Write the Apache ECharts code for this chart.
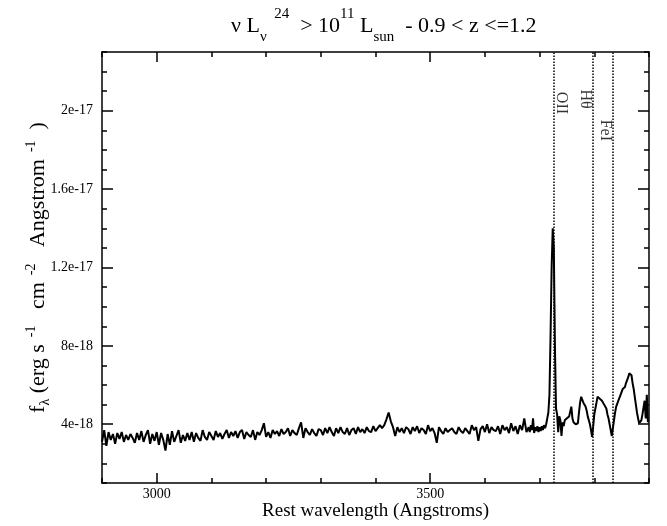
<!DOCTYPE html>
<html>
<head>
<meta charset="utf-8">
<script src="https://cdn.jsdelivr.net/npm/echarts@6/dist/echarts.min.js"></script>
<style>html,body{margin:0;padding:0;background:#fff}#c{width:667px;height:526px}</style>
</head>
<body>
<div id="c"></div>
<script>
// ---- data (flux in units of 1e-18 erg s^-1 cm^-2 A^-1) ----
var waveBlue = [
2900,2904,2908,2912,2916,2920,2924,2928,2932,2936,2940,2944,2948,2952,2956,2960,2964,2968,2972,2976,
2980,2984,2988,2992,2996,3000,3004,3008,3012,3016,3020,3024,3028,3032,3036,3040,3044,3048,3052,3056,
3060,3064,3068,3072,3076,3080,3084,3088,3092,3096,3100,3104,3108,3112,3116,3120,3124,3128,3132,3136,
3140,3144,3148,3152,3156,3160,3164,3168,3172,3176,3180,3184,3188,3192,3196,3200,3204,3208,3212,3216,
3220,3224,3228,3232,3236,3240,3244,3248,3252,3256,3260,3264,3268,3272,3276,3280,3284,3288,3292,3296,
3300,3304,3308,3312,3316,3320,3324,3328,3332,3336,3340,3344,3348,3352,3356,3360,3364,3368,3372,3376,
3380,3384,3388,3392,3396,3400,3404,3408,3412,3416,3420,3424,3428,3432,3436,3440,3444,3448,3452,3456,
3460,3464,3468,3472,3476,3480,3484,3488,3492,3496,3500,3504,3508,3512,3516,3520,3524,3528,3532,3536,
3540,3544,3548,3552,3556,3560,3564,3568,3572,3576,3580,3584,3588,3592,3596,3600,3604,3608,3612,3616,
3620,3624,3628,3632,3636,3640,3644,3648,3652,3656,3660,3664,3668,3672,3676
];
var fluxBlue = [
3.1,3.7,2.9,3.6,3.2,3.5,3.0,3.55,3.25,3.6,3.1,3.45,3.2,3.5,3.3,3.05,3.55,3.2,3.65,3.1,
3.45,3.7,3.0,3.5,3.15,3.6,2.95,3.55,3.2,2.65,3.5,2.95,3.65,3.1,3.4,3.7,3.05,3.45,3.15,3.55,
3.2,3.6,3.1,3.55,3.3,3.15,3.7,3.35,3.2,3.6,3.4,3.2,3.65,3.35,3.55,3.25,3.5,3.7,3.3,3.6,
3.4,3.65,3.3,3.6,3.7,3.25,3.6,3.45,3.35,3.7,3.2,3.6,3.45,3.7,4.05,3.35,3.6,3.3,3.7,3.5,
3.65,3.4,3.75,3.5,3.6,3.8,3.4,3.7,3.55,3.45,3.8,4.1,3.3,3.8,3.6,3.45,3.75,3.55,3.4,3.75,
3.7,3.45,3.8,3.55,3.85,3.6,3.4,3.8,3.55,3.85,3.6,3.5,3.8,3.45,3.7,3.8,3.5,3.85,3.6,3.75,
3.55,3.85,3.65,3.6,3.9,3.65,3.8,3.95,3.8,3.95,4.25,4.6,4.15,3.85,3.4,3.85,3.6,3.8,3.55,3.85,
3.75,3.5,3.85,3.65,3.9,3.55,3.8,3.7,3.5,3.95,3.65,3.8,3.55,3.05,3.85,3.65,3.5,3.8,3.6,3.7,
3.8,3.6,3.5,3.85,3.65,3.55,3.8,3.65,3.5,3.95,3.7,3.85,3.15,3.75,3.9,3.6,4.0,3.55,3.85,3.7,
3.65,3.9,3.5,3.95,3.7,3.85,3.55,4.05,3.65,3.9,3.5,3.95,3.7,4.3,3.6
];
var waveRed = [
3680,3682,3684,3686,3688,3690,3692,3694,3696,3698,
3700,3702,3704,3706,3708,3710,3712,3714,3716,3718,
3720,3722,3724,3726,3728,3730,3732,3734,3736,3738,
3740,3742,3744,3746,3748,3750,3752,3754,3756,3758,
3760,3762,3764,3766,3768,3770,3772,3774,3776,3778,
3780,3782,3784,3786,3788,3790,3792,3794,3796,3798,
3800,3802,3804,3806,3808,3810,3812,3814,3816,3818,
3820,3822,3824,3826,3828,3830,3832,3834,3836,3838,
3840,3842,3844,3846,3848,3850,3852,3854,3856,3858,
3860,3862,3864,3866,3868,3870,3872,3874,3876,3878,
3880,3882,3884,3886,3888,3890,3892,3894,3896,3898
];
var fluxRed = [
3.85,3.6,3.95,3.7,4.3,3.55,3.85,3.65,3.9,3.6,
3.85,3.65,3.9,3.7,3.95,3.8,4.0,4.3,4.6,5.5,
8.5,12.0,14.0,13.0,8.0,4.8,4.5,3.6,4.4,4.2,
3.4,4.1,3.9,4.2,4.1,4.3,4.2,4.4,4.3,4.9,
4.3,4.1,4.05,4.0,4.1,4.05,4.6,5.1,5.4,5.35,
5.1,5.0,4.9,4.7,4.4,4.2,4.0,3.7,3.35,3.9,
4.5,4.8,5.1,5.4,5.5,5.3,5.35,5.2,5.25,5.0,
5.1,4.8,4.5,4.3,4.0,3.7,3.4,3.8,4.2,4.6,
4.9,5.0,5.2,5.3,5.5,5.6,5.8,5.7,5.9,6.1,
6.2,6.4,6.6,6.7,6.5,6.1,5.8,5.4,5.0,4.6,
4.3,4.05,4.0,4.2,4.5,4.6,5.2,4.3,5.5,4.1
];
var lineNames = ['OII', 'H\u03B8', 'FeI'];
var lineWaves = [3726, 3797, 3834];
var xTickValues = [3000, 3500];
var xTickLabels = ['3000', '3500'];
var yTickValues = [4, 8, 12, 16, 20];
var yTickLabels = ['4e-18', '8e-18', '1.2e-17', '1.6e-17', '2e-17'];

// ---- chart ----
var FONT = 'Liberation Serif';
var spectrum = [];
waveBlue.forEach(function (w, i) { spectrum.push([w, fluxBlue[i]]); });
waveRed.forEach(function (w, i) { spectrum.push([w, fluxRed[i]]); });

var labelOffsets = [[13, 20.4], [-13, 20.6], [-14, 19.0]];
var lineLabelData = lineNames.map(function (n, i) {
  return { name: n, value: [lineWaves[i] + labelOffsets[i][0], labelOffsets[i][1]] };
});

var XMIN = 2900, XMAX = 3900, YMIN = 1, YMAX = 23;
var lineSt = { color: '#000', width: 1.5 };
function xAx(pos, major) {
  var a = {
    type: 'value', min: XMIN, max: XMAX, position: pos, splitLine: { show: false },
    axisLine: { show: major, onZero: false, lineStyle: lineSt },
    axisTick: { show: true, inside: true, length: major ? 10 : 5, lineStyle: lineSt },
    axisLabel: { show: false }
  };
  if (major) {
    a.axisTick.customValues = xTickValues;
  } else {
    a.interval = 100;
  }
  return a;
}
function yAx(pos, major) {
  var a = {
    type: 'value', min: YMIN, max: YMAX, position: pos, splitLine: { show: false },
    axisLine: { show: major, onZero: false, lineStyle: lineSt },
    axisTick: { show: true, inside: true, length: major ? 11 : 5, lineStyle: lineSt },
    axisLabel: { show: false }
  };
  if (major) {
    a.axisTick.customValues = yTickValues;
  } else {
    a.interval = 1;
  }
  return a;
}
var xAxes = [xAx('bottom', true), xAx('bottom', false), xAx('top', true), xAx('top', false)];
xAxes[0].axisLabel = {
  show: true, customValues: xTickValues, color: '#000', fontFamily: FONT, fontSize: 14, margin: 4,
  formatter: function (v) { var k = xTickValues.indexOf(v); return k >= 0 ? xTickLabels[k] : ''; }
};
xAxes[0].name = 'Rest wavelength (Angstroms)';
xAxes[0].nameLocation = 'middle';
xAxes[0].nameGap = 19;
xAxes[0].nameMoveOverlap = false;
xAxes[0].nameTextStyle = { color: '#000', fontFamily: FONT, fontSize: 19 };

var yAxes = [yAx('left', true), yAx('left', false), yAx('right', true), yAx('right', false)];
yAxes[0].axisLabel = {
  show: true, customValues: yTickValues, color: '#000', fontFamily: FONT, fontSize: 14, margin: 9,
  formatter: function (v) { var k = yTickValues.indexOf(v); return k >= 0 ? yTickLabels[k] : ''; }
};
yAxes[0].name = 'f{sb|\u03BB} (erg s{sp|  -1}   cm{sp|  -2}   Angstrom{sp|  -1}  )';
yAxes[0].nameLocation = 'middle';
yAxes[0].nameGap = 50;
yAxes[0].nameMoveOverlap = false;
yAxes[0].nameTextStyle = {
  color: '#000', fontFamily: FONT, fontSize: 22, lineHeight: 28,
  rich: {
    sp: { fontFamily: FONT, fontSize: 14, lineHeight: 14, verticalAlign: 'top', color: '#000' },
    sb: { fontFamily: FONT, fontSize: 14, lineHeight: 14, verticalAlign: 'bottom', color: '#000' }
  }
};

var chart = echarts.init(document.getElementById('c'), null, { renderer: 'canvas' });
chart.setOption({
  animation: false,
  backgroundColor: '#fff',
  title: {
    text: '\u03BD L{sb|\u03BD}{sp|  24}  > 10{sp|11} L{sb|sun}  - 0.9 < z <=1.2',
    left: 226, top: 2,
    textStyle: {
      color: '#000', fontFamily: FONT, fontSize: 22, fontWeight: 'normal', lineHeight: 38,
      rich: {
        sp: { fontFamily: FONT, fontSize: 15, lineHeight: 15, verticalAlign: 'top', color: '#000' },
        sb: { fontFamily: FONT, fontSize: 15, lineHeight: 15, verticalAlign: 'bottom', color: '#000' }
      }
    }
  },
  grid: { left: 102, right: 18, top: 52, bottom: 43, containLabel: false, outerBoundsMode: 'none' },
  xAxis: xAxes,
  yAxis: yAxes,
  series: [
    {
      type: 'line', data: spectrum, showSymbol: false, symbol: 'none',
      lineStyle: { color: '#000', width: 2 }, itemStyle: { color: '#000' },
      markLine: {
        silent: true, symbol: 'none', label: { show: false },
        lineStyle: { color: '#000', type: 'dotted', width: 1.5 },
        data: lineWaves.map(function (w) { return { xAxis: w }; })
      }
    },
    {
      type: 'scatter', data: lineLabelData, symbolSize: 0, silent: true,
      label: {
        show: true, position: 'inside', rotate: -90, color: '#000', fontFamily: FONT, fontSize: 16,
        formatter: function (p) { return p.name; }
      }
    }
  ]
});
</script>
</body>
</html>
